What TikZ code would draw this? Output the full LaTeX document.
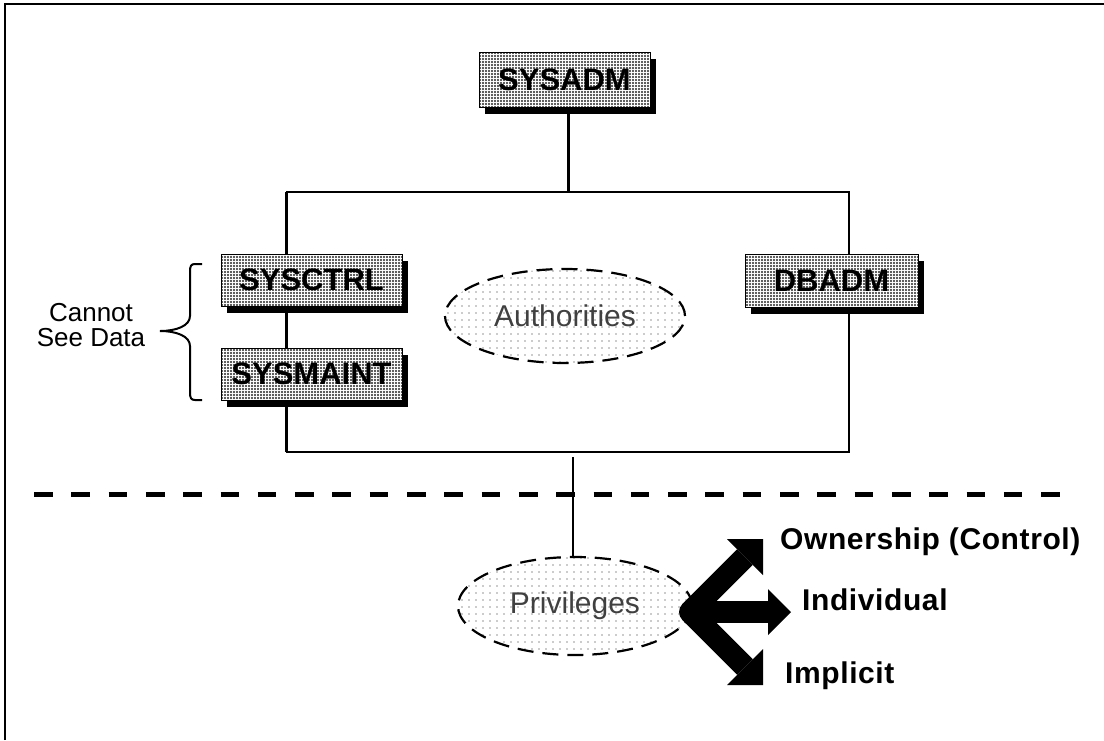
\documentclass[tikz,border=0pt]{standalone}
\usepackage{fontspec}
\setmainfont{Liberation Sans}
\usetikzlibrary{shadows,patterns,shapes.geometric}

% dense dot screen for the authority boxes, sparse one for the ellipses
\pgfdeclarepatternformonly{boxdots}{\pgfqpoint{-1.5pt}{-1.5pt}}{\pgfqpoint{1.5pt}{1.5pt}}{\pgfqpoint{3pt}{3pt}}{\pgfpathcircle{\pgfpointorigin}{1.15pt}\pgfusepath{fill}}
\pgfdeclarepatternformonly{cloudots}{\pgfqpoint{-1pt}{-1pt}}{\pgfqpoint{1pt}{1pt}}{\pgfqpoint{7pt}{7pt}}{\pgfpathcircle{\pgfpointorigin}{0.65pt}\pgfusepath{fill}}

\begin{document}
\begin{tikzpicture}[x=1pt,y=-1pt,
  authbox/.style={draw=black, line width=1pt, minimum width=#1, minimum height=53pt,
    inner sep=0pt, font=\fontsize{31}{36}\selectfont\bfseries,
    drop shadow={shadow xshift=6pt, shadow yshift=-7pt, fill=black, opacity=1},
    preaction={fill=white}, pattern=boxdots, pattern color=black!85},
  dotcloud/.style={ellipse, draw=black, line width=2.2pt, dash pattern=on 16pt off 9pt,
    preaction={fill=white}, pattern=cloudots, pattern color=black!85,
    inner sep=0pt, font=\fontsize{30}{36}\selectfont, text=black!75},
  treeline/.style={line width=2pt},
  branchlabel/.style={anchor=base west, inner sep=0pt,
    font=\fontsize{30}{36}\selectfont\bfseries\addfontfeature{LetterSpace=2}},
  fatarrow/.style={line width=22pt, line cap=butt}
]
\useasboundingbox (0,0) rectangle (1104,740);

% outer frame (top and left edges)
\draw[line width=2pt] (5,740) -- (5,4) -- (1104,4);

% hierarchy frame
\coordinate (rtl) at (286,192);
\coordinate (rtr) at (849,192);
\coordinate (rbl) at (286,452);
\coordinate (rbr) at (849,452);
\coordinate (rtop) at (568,192);
\draw[treeline] (rtl) -- (rtr) -- (rbr) -- (rbl);
\draw[line width=3pt] (rbl) -- (rtl);

% authority boxes
\node[authbox=171pt, minimum height=55pt] (sysadm) at (564.5,79.5) {SYSADM};
\draw[line width=3pt] (rtop |- sysadm.south) -- (rtop);

% ellipses
\node[dotcloud, minimum width=240pt, minimum height=94pt] (auth) at (565,316) {Authorities};

\node[authbox=181pt, minimum height=52pt] (sysctrl) at (311.5,280) {SYSCTRL};
\node[authbox=181pt, minimum height=52pt] (sysmaint) at (311.5,374) {SYSMAINT};
\node[authbox=173pt] (dbadm) at (831.5,280.5) {DBADM};

% brace and its note
\draw[line width=2pt] (202,264) -- (195,264) .. controls (191,264) and (190,266) .. (190,272)
  -- (190,316) .. controls (190,326) and (176,331) .. (160,331)
  .. controls (176,331) and (190,336) .. (190,346)
  -- (190,392) .. controls (190,398) and (191,400) .. (195,400) -- (202,400);
\node[align=center, inner sep=0pt, font=\fontsize{26}{25}\selectfont] (nodata) at (91,325) {Cannot\\See Data};

% divider between authorities and privileges
\coordinate (divl) at (34,494);
\coordinate (divr) at (1077,494);
\draw[line width=5pt, dash pattern=on 18.6pt off 18.7pt] (divl) -- (divr);

% privileges
\coordinate (pstart) at (573,457);
\node[dotcloud, minimum width=234pt, minimum height=98pt] (priv) at (575,606) {Privileges};
\draw[line width=1.3pt] (pstart) -- (pstart |- priv.north);

% three-way arrow
\coordinate (J) at (690,612);
\coordinate (M1) at (745,557);
\coordinate (M2) at (769,612);
\coordinate (M3) at (745,667);
\draw[fatarrow] (J) -- (M1);
\draw[fatarrow] (J) -- (M2);
\draw[fatarrow] (J) -- (M3);
\fill (J) circle (11);
\fill (727,539) -- (763,539) -- (763,575) -- cycle;
\fill (768,589) -- (791,612) -- (768,635) -- cycle;
\fill (727,685) -- (763,685) -- (763,649) -- cycle;

\node[branchlabel] (own) at (780,549) {Ownership (Control)};
\node[branchlabel] (indiv) at (802,610) {Individual};
\node[branchlabel] (impl) at (785,683) {Implicit};
\end{tikzpicture}
\end{document}
